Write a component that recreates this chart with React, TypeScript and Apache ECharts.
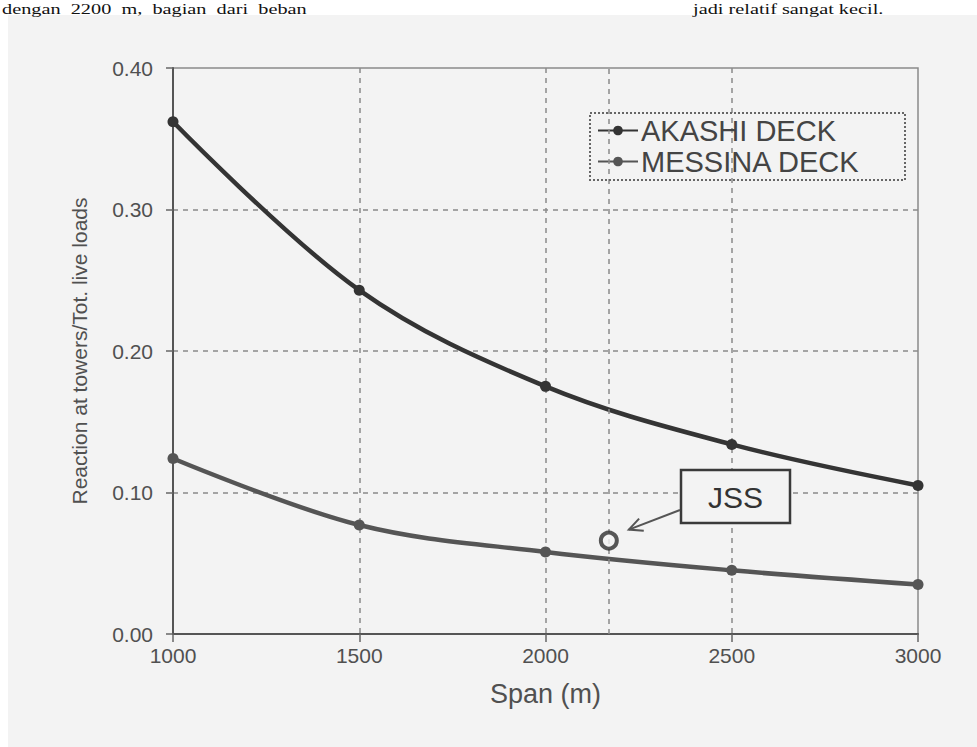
import React, { useEffect, useRef } from "react";
import * as echarts from "echarts";

const spans = [1000, 1500, 2000, 2500, 3000];
const akashi = [0.362, 0.243, 0.175, 0.134, 0.105];
const messina = [0.124, 0.077, 0.058, 0.045, 0.035];
const jssSpan = 2170;
const jssValue = 0.066;
const yTicks = [0, 0.1, 0.2, 0.3, 0.4];
const xTicks = [1000, 1500, 2000, 2500, 3000];

const BG = "#f3f3f3";
const DARK = "#343434";
const MID = "#555555";
const TXT = "#505050";

export default function App() {
  const ref = useRef<HTMLDivElement>(null);
  useEffect(() => {
    if (!ref.current) return;
    const chart = echarts.init(ref.current, undefined, { renderer: "svg" });
    const font = "'Liberation Sans', Arial, sans-serif";
    const option: any = {
      animation: false,
      backgroundColor: "#ffffff",
      textStyle: { fontFamily: font },
      grid: {
        left: 173,
        right: 59,
        top: 68,
        bottom: 113,
        show: true,
        backgroundColor: "transparent",
        borderColor: "#8a8a8a",
        borderWidth: 1.5,
      },
      legend: {
        orient: "vertical",
        left: 597,
        top: 116,
        itemWidth: 40,
        itemHeight: 12,
        itemGap: 2,
        padding: 0,
        textStyle: { fontSize: 29, color: "#444", fontFamily: font, padding: [0, 0, 0, -2] },
        data: ["AKASHI DECK", "MESSINA DECK"],
      },
      xAxis: {
        type: "value",
        min: xTicks[0],
        max: xTicks[xTicks.length - 1],
        interval: 500,
        name: "Span (m)",
        nameLocation: "middle",
        nameGap: 46,
        nameTextStyle: { fontSize: 27, color: TXT },
        axisLine: { show: true, lineStyle: { color: "#555", width: 2 } },
        axisTick: { show: true, length: 8, lineStyle: { color: "#666", width: 1.5 } },
        axisLabel: { fontSize: 21, color: TXT, margin: 11, formatter: (v: number) => String(v) },
        splitLine: {
          show: true,
          showMinLine: false,
          showMaxLine: false,
          lineStyle: { color: "#8a8a8a", type: [5, 5], width: 1.5 },
        },
      },
      yAxis: {
        type: "value",
        min: yTicks[0],
        max: yTicks[yTicks.length - 1],
        interval: 0.1,
        name: "Reaction at towers/Tot. live loads",
        nameLocation: "middle",
        nameGap: 83,
        nameTextStyle: { fontSize: 21, color: TXT },
        axisLine: { show: true, lineStyle: { color: "#555", width: 2 } },
        axisTick: { show: true, length: 7, lineStyle: { color: "#666", width: 1.5 } },
        axisLabel: { fontSize: 21, color: TXT, margin: 20, formatter: (v: number) => v.toFixed(2) },
        splitLine: {
          show: true,
          showMinLine: false,
          showMaxLine: false,
          lineStyle: { color: "#8a8a8a", type: [5, 5], width: 1.5 },
        },
      },
      series: [
        {
          name: "AKASHI DECK",
          type: "line",
          smooth: 0.35,
          data: spans.map((s, i) => [s, akashi[i]]),
          symbol: "circle",
          symbolSize: 11,
          itemStyle: { color: DARK },
          lineStyle: { color: DARK, width: 4.5 },
          z: 3,
        },
        {
          name: "MESSINA DECK",
          type: "line",
          smooth: 0.35,
          data: spans.map((s, i) => [s, messina[i]]),
          symbol: "circle",
          symbolSize: 11,
          itemStyle: { color: MID },
          lineStyle: { color: MID, width: 4.5 },
          z: 3,
        },
        {
          name: "JSS",
          type: "scatter",
          data: [[jssSpan, jssValue]],
          symbol: "circle",
          symbolSize: 16,
          itemStyle: { color: BG, borderColor: "#2e2e2e", borderWidth: 4 },
          z: 5,
          markLine: {
            silent: true,
            symbol: "none",
            label: { show: false },
            lineStyle: { color: "#8a8a8a", type: [5, 5], width: 1.5 },
            data: [{ xAxis: jssSpan }],
          },
        },
      ],
    };
    chart.setOption(option);

    const p = chart.convertToPixel({ seriesIndex: 2 }, [jssSpan, jssValue]) as number[];
    const boxX = 681;
    const boxY = 470;
    const boxW = 109;
    const boxH = 53;
    const ax0 = boxX - 1;
    const ay0 = boxY + 40;
    const ax1 = p[0] + 20;
    const ay1 = p[1] - 11;
    const ang = Math.atan2(ay1 - ay0, ax1 - ax0);
    const hl = 15;
    const h1 = [ax1 - hl * Math.cos(ang - 0.45), ay1 - hl * Math.sin(ang - 0.45)];
    const h2 = [ax1 - hl * Math.cos(ang + 0.45), ay1 - hl * Math.sin(ang + 0.45)];

    chart.setOption({
      graphic: [
        {
          type: "rect",
          z: -10,
          silent: true,
          shape: { x: 8, y: 15, width: 969, height: 732 },
          style: { fill: BG },
        },
        {
          type: "text",
          z: -5,
          silent: true,
          x: 2,
          y: 2,
          scaleX: 1.45,
          style: {
            text: "dengan  2200  m,  bagian  dari  beban",
            font: "14px 'Liberation Serif', serif",
            fill: "#111",
            textVerticalAlign: "top",
          },
        },
        {
          type: "text",
          z: -5,
          silent: true,
          x: 693,
          y: 2,
          scaleX: 1.45,
          style: {
            text: "jadi relatif sangat kecil.",
            font: "14px 'Liberation Serif', serif",
            fill: "#111",
            textVerticalAlign: "top",
          },
        },
        {
          type: "rect",
          z: 10,
          silent: true,
          shape: { x: 590, y: 113, width: 315, height: 67 },
          style: { fill: "none", stroke: "#666", lineWidth: 2, lineDash: [2, 2] },
        },
        {
          type: "rect",
          z: 10,
          silent: true,
          shape: { x: boxX, y: boxY, width: boxW, height: boxH },
          style: { fill: BG, stroke: "#3a3a3a", lineWidth: 2.5 },
        },
        {
          type: "text",
          z: 11,
          silent: true,
          x: boxX + boxW / 2,
          y: boxY + boxH / 2 + 1,
          style: {
            text: "JSS",
            font: "30px 'Liberation Sans', Arial, sans-serif",
            fill: "#333",
            textAlign: "center",
            textVerticalAlign: "middle",
          },
        },
        {
          type: "line",
          z: 10,
          silent: true,
          shape: { x1: ax0, y1: ay0, x2: ax1, y2: ay1 },
          style: { stroke: "#555", lineWidth: 2 },
        },
        {
          type: "polyline",
          z: 10,
          silent: true,
          shape: { points: [h1, [ax1, ay1], h2] },
          style: { stroke: "#555", lineWidth: 2, fill: "none" },
        },
      ],
    });

    return () => chart.dispose();
  }, []);
  return (
    <div
      ref={ref}
      style={{ position: "fixed", left: 0, top: 0, width: 977, height: 747 }}
    />
  );
}
